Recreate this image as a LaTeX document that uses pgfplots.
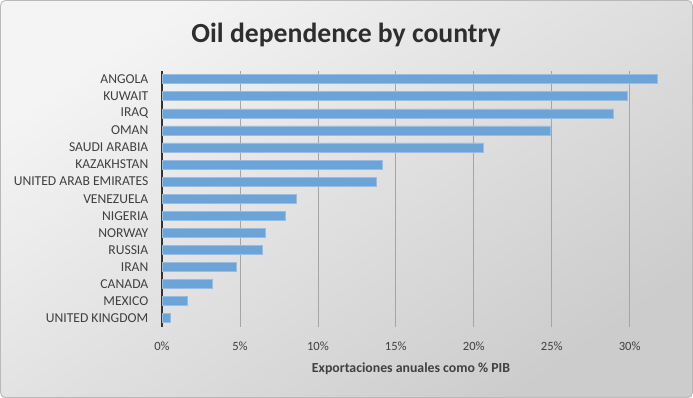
\documentclass[border=0pt]{standalone}
\usepackage{pgfplots}
\pgfplotsset{compat=1.18}
\usepackage{fontspec}
\setmainfont{Carlito}
\definecolor{barblue}{RGB}{108,164,216}
\definecolor{baredge}{RGB}{150,190,228}
\definecolor{gridgray}{RGB}{165,165,165}
\definecolor{txtgray}{RGB}{64,64,64}
\definecolor{bgtop}{RGB}{244,244,244}
\definecolor{bgbot}{RGB}{204,204,204}
\begin{document}
\begin{tikzpicture}
\shade[top color=bgtop, bottom color=bgbot, shading angle=35, rounded corners=5pt] (0pt,0pt) rectangle (693pt,398pt);
\draw[gray!55, line width=0.8pt, rounded corners=5pt] (0.5pt,0.5pt) rectangle (692.5pt,397.5pt);
\begin{axis}[
  at={(162pt,71.3pt)}, anchor=south west,
  scale only axis, width=498.9pt, height=256pt,
  xbar, bar width=9pt,
  xmin=0, xmax=32, ymin=-0.5, ymax=14.5,
  ytick={0,...,14},
  yticklabels={UNITED KINGDOM,MEXICO,CANADA,IRAN,RUSSIA,NORWAY,NIGERIA,VENEZUELA,UNITED ARAB EMIRATES,KAZAKHSTAN,SAUDI ARABIA,OMAN,IRAQ,KUWAIT,ANGOLA},
  xtick={0,5,...,30},
  xticklabel={\pgfmathprintnumber{\tick}\%},
  /pgf/number format/assume math mode=true,
  xmajorgrids,
  major grid style={gridgray, line width=0.8pt},
  axis lines*=left,
  x axis line style={draw=none},
  y axis line style={draw=black!80, line width=1.3pt},
  major tick length=0pt,
  yticklabel style={font=\fontsize{13.6}{15}\selectfont, text=txtgray, inner sep=0pt, xshift=-13.5pt},
  xticklabel style={font=\fontsize{12.6}{14}\selectfont, text=txtgray, inner sep=0pt, yshift=-15pt},
  clip=false,
]
\addplot[fill=barblue, draw=baredge, line width=0.6pt] coordinates {
(0.53,0) (1.60,1) (3.21,2) (4.77,3) (6.43,4) (6.61,5) (7.89,6) (8.64,7)
(13.77,8) (14.15,9) (20.63,10) (24.93,11) (28.97,12) (29.87,13) (31.77,14)
};
\end{axis}
\node[font=\bfseries\fontsize{27.7}{31}\selectfont, text=black!82] at (346pt,363pt) {Oil dependence by country};
\node[font=\bfseries\fontsize{13.8}{16}\selectfont, text=txtgray] at (411pt,29pt) {Exportaciones anuales como \% PIB};
\end{tikzpicture}
\end{document}
